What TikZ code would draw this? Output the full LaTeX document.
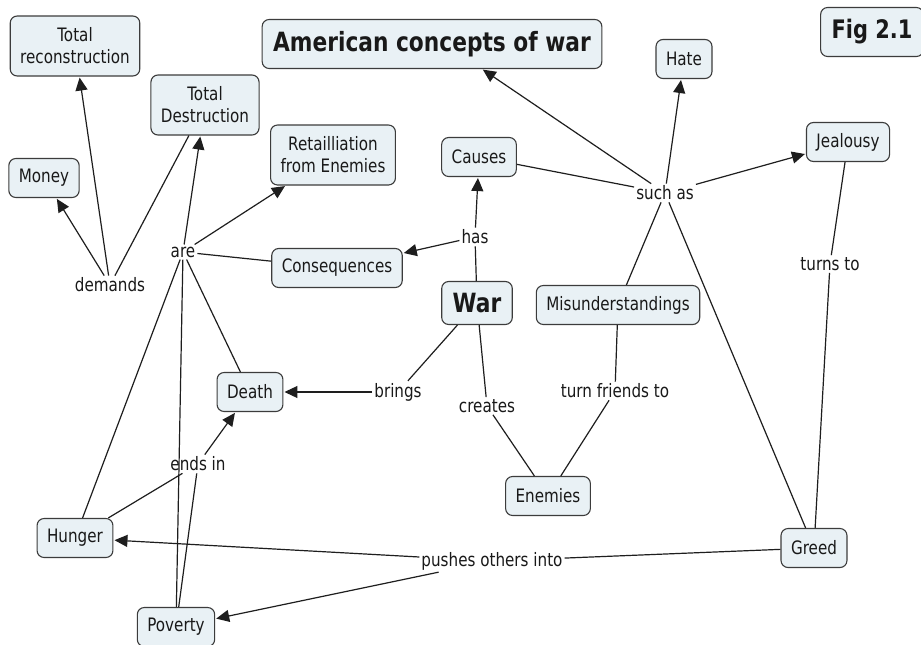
\documentclass[tikz,border=0pt]{standalone}
\usepackage{fontspec}
\setmainfont{DejaVu Sans}[FakeStretch=0.82]
\usetikzlibrary{arrows.meta}

\definecolor{conceptfill}{RGB}{233,241,245}
\definecolor{conceptedge}{RGB}{60,60,60}
\definecolor{linkcol}{RGB}{30,30,30}
\definecolor{inkcol}{RGB}{25,25,25}

\tikzset{
  concept/.style={draw=conceptedge, fill=conceptfill, rounded corners=7pt,
    line width=1.1pt, inner xsep=10pt, inner ysep=0pt, minimum height=39pt,
    align=center, text=inkcol, font=\fontsize{18.5}{22}\selectfont},
  twoline/.style={concept, minimum height=60pt},
  headline/.style={concept, inner xsep=11pt, minimum height=49pt,
    font=\fontsize{26.5}{30}\selectfont\bfseries},
  phrase/.style={inner sep=2pt, text=inkcol, font=\fontsize{18.5}{22}\selectfont},
  link/.style={draw=linkcol, line width=1.2pt},
  linkto/.style={link, -{Triangle[length=13pt,width=12pt]}, shorten >=1pt},
}

\begin{document}
\begin{tikzpicture}[x=1pt, y=-1pt]
\useasboundingbox (0,0) rectangle (921,645);
\fill[white] (0,0) rectangle (921,645);

% concepts
\node[headline] (title) at (432,44) {American concepts of war};
\node[headline, font=\fontsize{25.5}{30}\selectfont\bfseries] (fig) at (872,32) {Fig 2.1};
\node[twoline] (recon) at (75,46) {Total\\reconstruction};
\node[twoline] (destr) at (205,105) {Total\\Destruction};
\node[twoline] (retal) at (333,155) {Retailliation\\from Enemies};
\node[concept] (money) at (44,178) {Money};
\node[concept] (hate) at (684,59) {Hate};
\node[concept] (causes) at (479,157) {Causes};
\node[concept] (jeal) at (848,142) {Jealousy};
\node[concept] (conseq) at (337,268) {Consequences};
\node[headline, minimum height=43pt] (war) at (477,303) {War};
\node[concept] (misund) at (618,305) {Misunderstandings};
\node[concept] (death) at (250,392) {Death};
\node[concept] (enemies) at (548,496) {Enemies};
\node[concept] (hunger) at (75,538) {Hunger};
\node[concept] (greed) at (814,548) {Greed};
\node[concept] (poverty) at (176,627) {Poverty};

% linking phrases
\node[phrase] (demands) at (110,285) {demands};
\node[phrase] (are) at (183,252) {are};
\node[phrase] (has) at (475,237) {has};
\node[phrase] (suchas) at (665,193) {such as};
\node[phrase] (turns) at (830,264) {turns to};
\node[phrase] (brings) at (398,392) {brings};
\node[phrase] (creates) at (487,406) {creates};
\node[phrase] (friends) at (615,391) {turn friends to};
\node[phrase] (endsin) at (198,464) {ends in};
\node[phrase] (pushes) at (492,561) {pushes others into};

% Total Destruction demands ...
\draw[link] (destr) -- (demands);
\draw[linkto] (demands) -- (money);
\draw[linkto] (demands) -- (recon);

% Consequences are ...
\draw[link] (conseq) -- (are);
\draw[linkto] (are) -- (destr);
\draw[linkto] (are) -- (retal);
\draw[link] (are) -- (hunger);
\draw[link] (are) -- (poverty);
\draw[link] (are) -- (death);

% War has ...
\draw[link] (war) -- (has);
\draw[linkto] (has) -- (causes);
\draw[linkto] (has) -- (conseq);

% Causes such as ...
\draw[link] (causes) -- (suchas);
\draw[linkto] (suchas) -- ([xshift=50pt]title.south);
\draw[linkto] (suchas) -- (hate);
\draw[linkto] (suchas) -- (jeal);
\draw[link] (suchas) -- (misund);
\draw[link] (suchas) -- (greed);

% Jealousy turns to Greed
\draw[link] (jeal) -- (turns);
\draw[link] (turns) -- (greed);

% War brings Death, War creates Enemies
\draw[link] (war) -- (brings);
\draw[linkto] (brings) -- (death);
\draw[link] (war) -- (creates);
\draw[link] (creates) -- (enemies);

% Misunderstandings turn friends to Enemies
\draw[link] (misund) -- (friends);
\draw[link] (friends) -- (enemies);

% Hunger and Poverty end in Death
\draw[link] (hunger) -- (endsin);
\draw[link] (poverty) -- (endsin);
\draw[linkto] (endsin) -- (death);

% Greed pushes others into Hunger and Poverty
\draw[link] (greed) -- (pushes);
\draw[linkto] (pushes) -- (hunger);
\draw[linkto] (pushes) -- (poverty);
\end{tikzpicture}
\end{document}
